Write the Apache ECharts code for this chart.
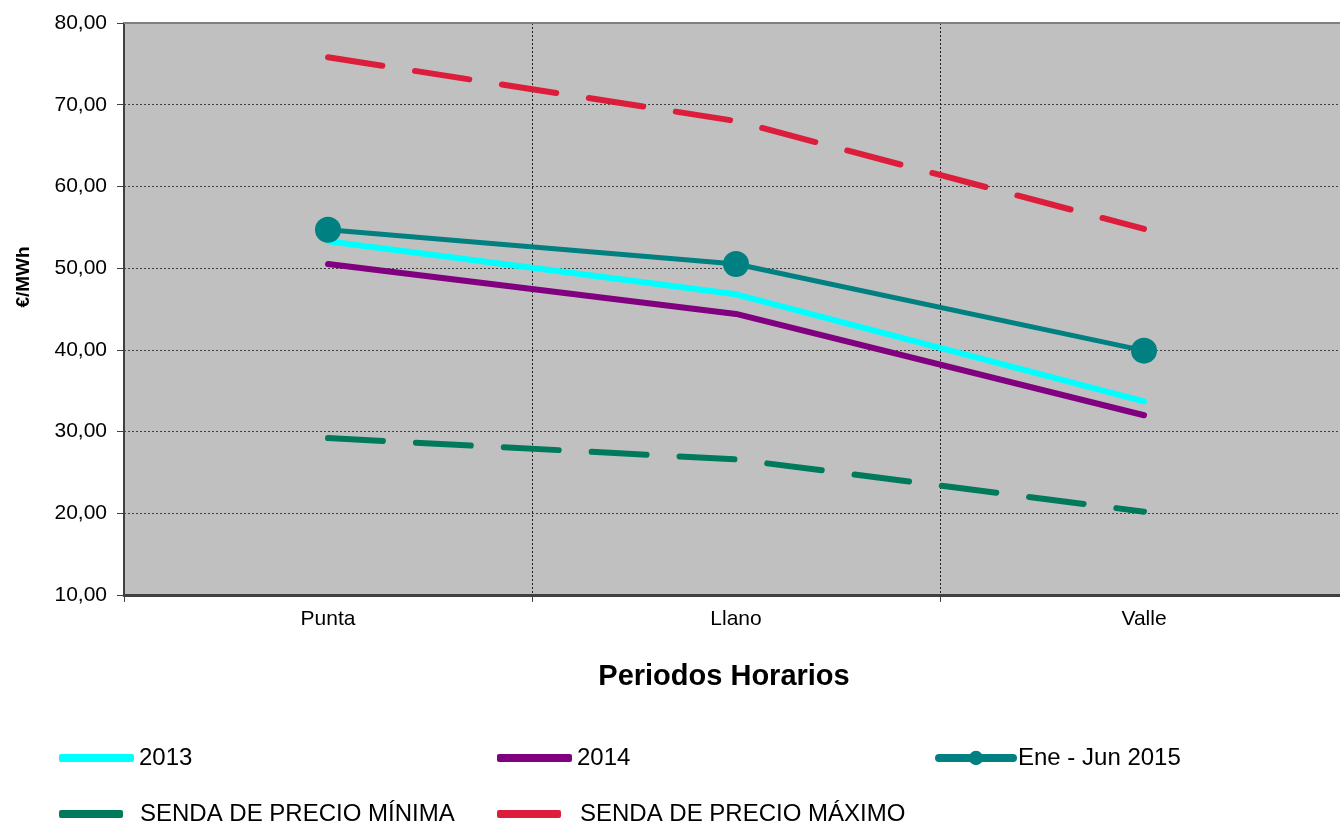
<!DOCTYPE html>
<html>
<head>
<meta charset="utf-8">
<script src="https://cdn.jsdelivr.net/npm/echarts@6/dist/echarts.min.js"></script>
<style>
  html, body { margin: 0; padding: 0; background: #fff; }
  #chart-container { width: 1340px; height: 823px; }
</style>
</head>
<body>
<div id="chart-container"></div>
<script>
var periodos = ['Punta', 'Llano', 'Valle'];
var serie2013 = [53.3, 46.8, 33.7];
var serie2014 = [50.5, 44.4, 32.0];
var serie2015 = [54.7, 50.5, 39.9];
var sendaMinima = [29.2, 26.6, 20.2];
var sendaMaxima = [75.8, 68.0, 54.8];
var yTicks = [10, 80, 10]; // min, max, interval

var dom = document.getElementById('chart-container');
var myChart = echarts.init(dom, null, { renderer: 'canvas' });

var fuente = 'Liberation Sans, Arial, sans-serif';

function leyenda(nombre, left, top, width, conPunto, hueco) {
  var l = {
    data: [nombre],
    left: left,
    top: top,
    padding: 0,
    itemWidth: width,
    itemHeight: conPunto ? 18 : 8,
    itemGap: 0,
    selectedMode: false,
    textStyle: { fontSize: 24, color: '#000', fontFamily: fuente, padding: [0, 0, 0, hueco || 0] }
  };
  if (conPunto) {
    l.lineStyle = { width: 8, cap: 'round' };
  } else {
    l.icon = 'roundRect';
  }
  return l;
}

var option = {
  backgroundColor: '#ffffff',
  animation: false,
  grid: {
    left: 124,
    top: 23,
    width: 1224,
    height: 572,
    outerBoundsMode: 'none',
    show: true,
    backgroundColor: '#C0C0C0',
    borderWidth: 0
  },
  legend: [
    leyenda('2013', 59, 746, 75, false),
    leyenda('2014', 497, 746, 75, false),
    leyenda('Ene - Jun 2015', 935, 746, 74, true),
    leyenda('SENDA DE PRECIO MÍNIMA', 59, 802, 64, false, 12),
    leyenda('SENDA DE PRECIO MÁXIMO', 497, 802, 64, false, 14)
  ],
  xAxis: [
    {
      type: 'category',
      data: periodos,
      boundaryGap: true,
      name: 'Periodos Horarios',
      nameLocation: 'middle',
      nameGap: 67,
      nameTextStyle: { fontSize: 29, fontWeight: 'bold', color: '#000', fontFamily: fuente, padding: [0, 24, 0, 0] },
      axisLine: { lineStyle: { color: '#404040', width: 3 } },
      axisTick: { show: true, length: 7, lineStyle: { color: '#404040', width: 1 } },
      axisLabel: { fontSize: 21, color: '#000', fontFamily: fuente, margin: 14 },
      splitLine: { show: true, lineStyle: { color: '#202020', type: [2, 2], width: 1 } }
    },
    {
      type: 'category',
      data: periodos,
      position: 'top',
      axisLine: { show: true, lineStyle: { color: '#808080', width: 2 } },
      axisTick: { show: false },
      axisLabel: { show: false },
      splitLine: { show: false }
    }
  ],
  yAxis: {
    type: 'value',
    min: yTicks[0],
    max: yTicks[1],
    interval: yTicks[2],
    name: '€/MWh',
    nameLocation: 'middle',
    nameGap: 91,
    nameTextStyle: { fontSize: 19, fontWeight: 'bold', color: '#000', fontFamily: fuente, padding: [0, 0, 0, 64] },
    axisLine: { show: true, lineStyle: { color: '#404040', width: 2 } },
    axisTick: { show: true, length: 7, lineStyle: { color: '#404040', width: 1 } },
    axisLabel: {
      fontSize: 21,
      color: '#000',
      fontFamily: fuente,
      margin: 17,
      formatter: function (v) { return v.toFixed(2).replace('.', ','); }
    },
    splitLine: { show: true, lineStyle: { color: '#404040', type: [2, 2], width: 1 } }
  },
  series: [
    {
      name: '2013',
      type: 'line',
      data: serie2013,
      symbol: 'none',
      color: '#00FFFF',
      lineStyle: { width: 6, color: '#00FFFF', cap: 'round' },
      z: 3
    },
    {
      name: '2014',
      type: 'line',
      data: serie2014,
      symbol: 'none',
      color: '#800080',
      lineStyle: { width: 6, color: '#800080', cap: 'round' },
      z: 3
    },
    {
      name: 'Ene - Jun 2015',
      type: 'line',
      data: serie2015,
      symbol: 'circle',
      symbolSize: 26,
      color: '#008080',
      itemStyle: { color: '#008080' },
      lineStyle: { width: 5, color: '#008080', cap: 'round' },
      z: 4
    },
    {
      name: 'SENDA DE PRECIO MÍNIMA',
      type: 'line',
      data: sendaMinima,
      symbol: 'none',
      color: '#007A5A',
      lineStyle: { width: 6, color: '#007A5A', type: [55, 33], cap: 'round' },
      z: 3
    },
    {
      name: 'SENDA DE PRECIO MÁXIMO',
      type: 'line',
      data: sendaMaxima,
      symbol: 'none',
      color: '#DC1E3C',
      lineStyle: { width: 6, color: '#DC1E3C', type: [55, 33], cap: 'round' },
      z: 3
    }
  ]
};

if (option && typeof option === 'object') {
  myChart.setOption(option);
}

window.addEventListener('resize', myChart.resize);
</script>
</body>
</html>
